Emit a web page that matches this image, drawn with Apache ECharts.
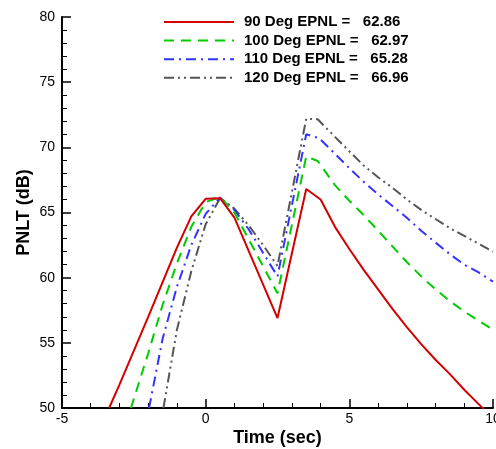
<!DOCTYPE html>
<html><head><meta charset="utf-8">
<script src="https://cdn.jsdelivr.net/npm/echarts@6/dist/echarts.min.js"></script>
<style>html,body{margin:0;padding:0;background:#fff}#c{width:496px;height:449px}</style>
</head><body><div id="c"></div>
<script>
const seriesNames = ['90 Deg EPNL =   62.86', '100 Deg EPNL =   62.97', '110 Deg EPNL =   65.28', '120 Deg EPNL =   66.96'];
const t90 = [-3.36, -3.0, -2.0, -1.0, -0.5, 0, 0.5, 1.0, 2.5, 3.5, 4.0, 4.5, 5.0, 5.5, 6.0, 6.5, 7.0, 7.5, 8.0, 8.5, 9.0, 9.5, 10.0];
const p90 = [50, 51.8, 57.0, 62.3, 64.7, 66.05, 66.1, 64.6, 56.9, 66.8, 66.0, 63.9, 62.2, 60.6, 59.1, 57.6, 56.2, 54.9, 53.7, 52.6, 51.4, 50.3, 49.2];
const t100 = [-2.6, -2.0, -1.5, -1.0, -0.5, 0, 0.5, 1.0, 2.5, 3.5, 3.9, 4.5, 5.0, 5.5, 6.0, 6.5, 7.0, 7.5, 8.0, 8.5, 9.0, 9.5, 10.0];
const p100 = [50, 54.2, 57.9, 61.1, 63.9, 65.8, 66.2, 65.0, 58.8, 69.3, 68.95, 67.1, 65.9, 64.8, 63.6, 62.4, 61.2, 60.1, 59.1, 58.2, 57.4, 56.7, 56.0];
const t110 = [-1.97, -1.5, -1.0, -0.5, 0, 0.5, 1.0, 1.5, 2.0, 2.5, 3.5, 3.95, 4.5, 5.0, 5.5, 6.0, 6.5, 7.0, 7.5, 8.0, 8.5, 9.0, 9.5, 10.0];
const p110 = [50, 55.3, 59.3, 62.5, 64.9, 66.15, 65.2, 63.7, 61.9, 60.1, 71.0, 70.7, 69.5, 68.4, 67.35, 66.4, 65.5, 64.6, 63.6, 62.7, 61.8, 61.0, 60.4, 59.7];
const t120 = [-1.47, -1.0, -0.5, 0, 0.5, 1.0, 1.5, 2.0, 2.5, 3.5, 3.9, 4.5, 5.0, 5.5, 6.0, 6.5, 7.0, 7.5, 8.0, 8.5, 9.0, 9.5, 10.0];
const p120 = [50, 56.0, 60.5, 64.1, 66.1, 65.3, 64.0, 62.5, 60.9, 72.2, 72.15, 70.8, 69.7, 68.6, 67.7, 66.9, 66.0, 65.2, 64.5, 63.8, 63.2, 62.6, 62.0];

const pairs = (t, p) => t.map((x, i) => [x, p[i]]);
const styles = [
  {color: '#d40000', type: 'solid'},
  {color: '#00cc00', type: [10, 7]},
  {color: '#3333ff', type: [10, 5, 2, 5]},
  {color: '#555555', type: [10, 4, 2, 4, 2, 4]}
];
const datasets = [pairs(t90, p90), pairs(t100, p100), pairs(t110, p110), pairs(t120, p120)];

const chart = echarts.init(document.getElementById('c'), null, {renderer: 'canvas'});
const font = 'Arial, "Liberation Sans", sans-serif';
chart.setOption({
  animation: false,
  grid: {left: 62, right: 3, top: 17, bottom: 41, containLabel: false, outerBoundsMode: 'none'},
  legend: {
    orient: 'vertical', left: 163, top: 14.5, padding: 0,
    itemWidth: 70, itemHeight: 12, itemGap: 3.6,
    itemStyle: {opacity: 0, color: 'transparent', borderWidth: 0},
    textStyle: {fontFamily: font, fontSize: 15, fontWeight: 'bold', color: '#000', lineHeight: 12, padding: [0, 0, 0, 5]},
    data: seriesNames
  },
  xAxis: {
    type: 'value', min: -5, max: 10, interval: 5,
    name: 'Time (sec)', nameLocation: 'middle', nameGap: 21, nameMoveOverlap: false,
    nameTextStyle: {fontFamily: font, fontSize: 18, fontWeight: 'bold', color: '#000'},
    axisLine: {onZero: false, lineStyle: {color: '#000', width: 2}},
    axisTick: {inside: true, length: 9, lineStyle: {color: '#000', width: 1.5}},
    minorTick: {show: true, splitNumber: 5, length: 5, lineStyle: {color: '#000', width: 1}},
    axisLabel: {fontFamily: font, fontSize: 14, color: '#000', margin: 4},
    splitLine: {show: false}
  },
  yAxis: {
    type: 'value', min: 50, max: 80, interval: 5,
    name: 'PNLT (dB)', nameLocation: 'middle', nameGap: 29, nameRotate: 90, nameMoveOverlap: false,
    nameTextStyle: {fontFamily: font, fontSize: 18, fontWeight: 'bold', color: '#000'},
    axisLine: {show: true, onZero: false, lineStyle: {color: '#000', width: 2}},
    axisTick: {show: true, inside: true, length: 9, lineStyle: {color: '#000', width: 1.5}},
    minorTick: {show: true, splitNumber: 5, length: 5, lineStyle: {color: '#000', width: 1}},
    axisLabel: {fontFamily: font, fontSize: 14, color: '#000', margin: 7},
    splitLine: {show: false}
  },
  series: datasets.map((d, i) => ({
    name: seriesNames[i], type: 'line', data: d, showSymbol: false, symbol: 'none',
    lineStyle: {color: styles[i].color, type: styles[i].type, width: 2},
    itemStyle: {color: styles[i].color},
    clip: true, z: 10 - i
  }))
});
</script></body></html>
